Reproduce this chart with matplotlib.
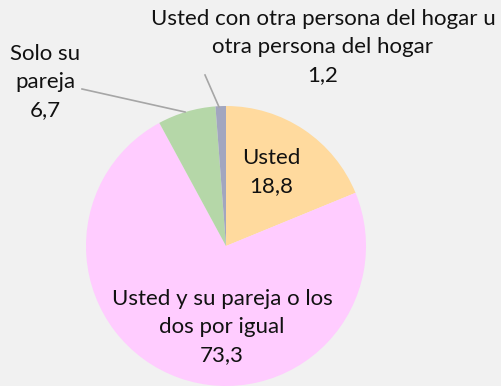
import matplotlib.pyplot as plt

# share of households by who decides
labels = ['Usted', 'Usted y su pareja o los\ndos por igual', 'Solo su\npareja',
          'Usted con otra persona del hogar u\notra persona del hogar']
values = [18.8, 73.3, 6.7, 1.2]
colors = ['#FFDA9E', '#FFCCFF', '#B5D7A8', '#A2A6BF']

W, H = 502, 386
fig = plt.figure(figsize=(W / 100, H / 100), dpi=100)
fig.patch.set_facecolor('#F1F1F1')
ax = fig.add_axes([0, 0, 1, 1])

cx, cy, r = 226, H - 246, 140
wedges, _ = ax.pie(values, colors=colors, startangle=90, counterclock=False,
                   center=(cx, cy), radius=r, wedgeprops=dict(linewidth=0),
                   frame=True)
ax.set_xlim(0, W)
ax.set_ylim(0, H)
ax.set_aspect('equal')
ax.axis('off')

font = dict(family='Lato', fontsize=16, color='#111111', ha='center', va='center',
            linespacing=1.5)

def lab(i):
    return labels[i] + '\n' + f'{values[i]:.1f}'.replace('.', ',')

ax.text(271, H - 172, lab(0), **font)
ax.text(222, H - 327, lab(1), **font)
ax.text(45, H - 82, lab(2), **font)
ax.text(323, H - 47, lab(3), **font)

# leader lines for the small slices
ax.plot([82, 185], [H - 89, H - 112], color='#A6A6A6', lw=1.2)
ax.plot([205, 219], [H - 75, H - 107], color='#A6A6A6', lw=1.2)

fig.savefig('out.png', dpi=100, facecolor=fig.get_facecolor())
